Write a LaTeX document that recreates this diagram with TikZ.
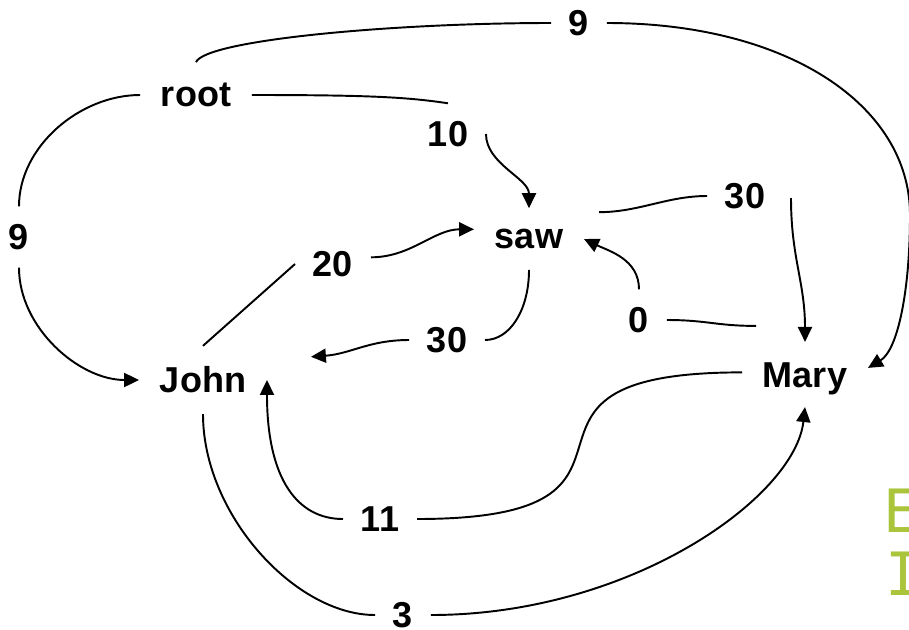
\documentclass[tikz,border=0pt]{standalone}
\usepackage{fontspec}
\setmainfont{Liberation Sans}
\newfontfamily\handfont{DejaVu Sans Mono}
\usetikzlibrary{arrows.meta}
\definecolor{leaf}{RGB}{170,196,60}

\begin{document}
\begin{tikzpicture}[
	x = 0.02cm, y = -0.02cm, % one unit per pixel, y grows downwards
	> = {Triangle[length=8.5pt, width=8pt]}, % arrow head style
	line width = 1.1pt, % line style
	word/.style={inner sep=0.4cm, font=\bfseries\fontsize{20.5}{24}\selectfont},
	weight/.style={inner sep=0.34cm, font=\bfseries\fontsize{20.5}{24}\selectfont},
	hand/.style={inner sep=0pt, text=leaf, font=\handfont\fontsize{34}{40}\selectfont},
	]
	\useasboundingbox (0,0) rectangle (909,629);
	\clip (0,0) rectangle (909,629);

	% Words
	\node[word] (root) at (196,95)  {root};
	\node[word] (saw)  at (529,239) {saw};
	\node[word] (john) at (203,380) {John};
	\node[word] (mary) at (805,379) {Mary};

	% Arc weights
	\node[weight] (wrm) at (579,23)  {9};
	\node[weight] (wrj) at (19,237)  {9};
	\node[weight] (wrs) at (448,134) {10};
	\node[weight] (wjs) at (333,264) {20};
	\node[weight] (wsm) at (745,196) {30};
	\node[weight] (wsj) at (447,340) {30};
	\node[weight] (wms) at (639,320) {0};
	\node[weight] (wmj) at (380,519) {11};
	\node[weight] (wjm) at (403,615) {3};

	% Side text
	\node[hand, anchor=base west] (sideE) at (883,532) {E};
	\node[hand, anchor=base west] (sideI) at (885,595) {I};

	% Arcs: head -- weight -> dependent
	\draw (root.north) .. controls +(10,-22) and +(-160,0) .. (wrm.west);
	\draw[->] (wrm.east) .. controls +(180,0) and +(0,-110) .. (910,215)
		.. controls +(0,75) and +(30,-18) .. (mary.10);

	\draw (root.west) .. controls +(-60,0) and +(0,-60) .. (wrj.north);
	\draw[->] (wrj.south) .. controls +(0,60) and +(-60,0) .. (john.west);

	\draw (root.east) .. controls +(120,0) and +(-40,-6) .. (wrs.north);
	\draw[->] (wrs.east) .. controls +(0,30) and +(0,-30) .. (saw.north);

	\draw (john.north) -- (wjs.west);
	\draw[->] (wjs.10) .. controls +(40,0) and +(-40,0) .. (saw.170);

	\draw ([shift={(15,4)}]saw.north east) .. controls +(40,0) and +(-40,0) .. (wsm.west);
	\draw[->] ([shift={(8,2)}]wsm.east) .. controls +(0,60) and +(0,-60) .. (mary.north);

	\draw (saw.south) .. controls +(0,40) and +(25,0) .. (wsj.east);
	\draw[->] (wsj.west) .. controls +(-40,0) and +(40,-3) .. ([shift={(44,11)}]john.north east);

	\draw ([shift={(14,-16)}]mary.north west) .. controls +(-40,0) and +(40,0) .. (wms.east);
	\draw[->] (wms.north) .. controls +(0,-30) and +(25,12) .. (saw.east);

	\draw (mary.174) .. controls +(-280,0) and +(280,0) .. (wmj.east);
	\draw[->] (wmj.west) .. controls +(-45,0) and +(0,100) .. (john.east);

	\draw (john.south) .. controls +(0,100) and +(-80,0) .. (wjm.west);
	\draw[->] (wjm.east) .. controls +(200,0) and +(-10,90) .. ([shift={(0,-9)}]mary.south);

\end{tikzpicture}
\end{document}
